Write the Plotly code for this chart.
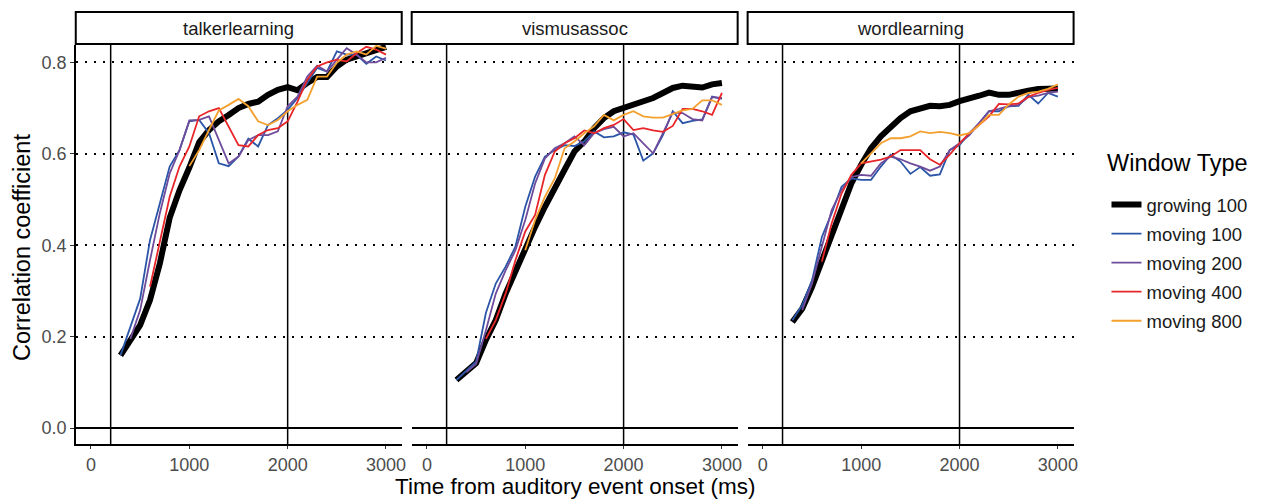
import plotly.graph_objects as go

# ---------------- data ----------------
panels = ["talkerlearning", "vismusassoc", "wordlearning"]
series_names = ["growing 100", "moving 100", "moving 200", "moving 400", "moving 800"]
series_colors = ["#000000", "#2B56A8", "#6F4C9B", "#E8262A", "#F4A02E"]
series_widths = [6, 1.8, 1.8, 1.8, 1.8]

times = [300, 400, 500, 600, 700, 800, 900, 1000, 1100, 1200, 1300, 1400, 1500, 1600,
         1700, 1800, 1900, 2000, 2100, 2200, 2300, 2400, 2500, 2600, 2700, 2800, 2900, 3000]

N = None
# talkerlearning
tl_growing100 = [.159, .192, .225, .280, .360, .460, .520, .570, .625, .652, .671, .685, .700, .709,
                 .714, .729, .740, .746, .739, .755, .768, .768, .791, .806, .813, .822, .828, .834]
tl_moving100 = [.159, .221, .283, .411, .492, .572, .608, .671, .674, .645, .579, .573, .594, .633,
                .616, .663, .678, .696, .722, .755, .788, .780, .824, .817, .817, .797, .813, .804]
tl_moving200 = [N, .195, .258, .367, .470, .557, .608, .673, .674, .682, .630, .579, .594, .630,
                .641, .641, .649, .704, .725, .769, .793, .780, .806, .831, .817, .800, .800, .810]
tl_moving400 = [N, N, N, .309, .411, .506, .572, .616, .682, .693, .700, .660, .619, .616,
                .641, .652, .656, .671, .714, .762, .791, .800, .806, .802, .820, .834, .828, .817]
tl_moving800 = [N, N, N, N, N, N, N, .573, .608, .652, .695, .707, .720, .704,
                .671, .663, .674, .693, .707, .718, .769, .769, .799, .817, .824, .817, .836, .830]

# vismusassoc
vm_growing100 = [.105, .123, .142, .193, .236, .294, .345, .393, .440, .484, .528, .565, .605, .627,
                 .656, .678, .693, .700, .708, .715, .722, .733, .744, .749, .746, .745, .752, .755]
vm_moving100 = [.105, .125, .145, .252, .316, .353, .397, .484, .550, .594, .608, .619, .617, .627,
                .649, .636, .638, .647, .642, .585, .601, .641, .693, .667, .672, .675, .725, .720]
vm_moving200 = [N, .122, .140, .214, .294, .345, .389, .455, .535, .590, .612, .623, .638, .619,
                .645, .654, .659, .638, .645, .623, .601, .645, .690, .689, .676, .673, .724, .722]
vm_moving400 = [N, N, N, .195, .236, .294, .367, .430, .466, .554, .605, .623, .634, .651,
                .645, .656, .663, .676, .652, .656, .651, .648, .661, .698, .698, .693, .685, .733]
vm_moving800 = [N, N, N, N, N, N, N, .389, .455, .506, .546, .612, .627, .645,
                .660, .685, .673, .685, .693, .682, .679, .679, .687, .695, .698, .717, .717, .707]

# wordlearning
wl_growing100 = [.232, .261, .309, .367, .426, .484, .535, .576, .612, .638, .660, .678, .693, .700,
                 .705, .704, .707, .715, .720, .727, .734, .729, .729, .735, .738, .742, .743, .743]
wl_moving100 = [.236, .269, .323, .418, .470, .528, .546, .543, .543, .572, .598, .583, .556, .571,
                .552, .555, .608, .619, .645, .667, .693, .693, .704, .705, .729, .710, .733, .725]
wl_moving200 = [N, .258, .316, .397, .477, .521, .549, .554, .552, .579, .594, .588, .579, .572,
                .563, .572, .608, .623, .641, .667, .693, .698, .704, .707, .724, .727, .733, .736]
wl_moving400 = [N, N, N, .364, .448, .513, .554, .579, .583, .587, .594, .608, .608, .608,
                .588, .576, .598, .623, .645, .663, .682, .709, .708, .710, .725, .733, .740, .744]
wl_moving800 = [N, N, N, N, N, N, N, .579, .601, .623, .634, .634, .638, .649,
                .645, .648, .645, .640, .645, .663, .685, .685, .708, .725, .733, .736, .742, .752]

panel_data = [
    [tl_growing100, tl_moving100, tl_moving200, tl_moving400, tl_moving800],
    [vm_growing100, vm_moving100, vm_moving200, vm_moving400, vm_moving800],
    [wl_growing100, wl_moving100, wl_moving200, wl_moving400, wl_moving800],
]

vlines = [200, 2000]
x_ticks = [0, 1000, 2000, 3000]
y_ticks = [0.0, 0.2, 0.4, 0.6, 0.8]

# ---------------- layout geometry ----------------
W, H = 1265, 499
FONT = "Liberation Sans, Arial, sans-serif"
TICK_FS = 18
panel_px = [(76, 403), (413, 740), (750, 1077)]
plot_top, plot_bottom = 45, 444
strip_top, strip_bottom = 12, 44
ydom = [1 - plot_bottom / H, 1 - plot_top / H]

fig = go.Figure()
shapes = []
annotations = []
layout_axes = {}

for i, (pname, series) in enumerate(zip(panels, panel_data)):
    k = "" if i == 0 else str(i + 1)
    xa, ya = "x" + k, "y" + k
    for j, (name, vals) in enumerate(zip(series_names, series)):
        fig.add_trace(go.Scatter(
            x=times, y=vals, mode="lines", name=name,
            line=dict(color=series_colors[j], width=series_widths[j]),
            xaxis=xa, yaxis=ya, showlegend=(i == 0),
            legendgroup=name, connectgaps=False,
        ))
    x0, x1 = panel_px[i]
    layout_axes["xaxis" + k] = dict(
        domain=[x0 / W, x1 / W], range=[-155, 3160], anchor=ya,
        tickvals=x_ticks, ticktext=[str(t) for t in x_ticks],
        ticks="outside", ticklen=3, tickwidth=1.2, tickcolor="#333333",
        showline=True, linecolor="black", linewidth=2,
        showgrid=False, zeroline=False,
        tickfont=dict(size=TICK_FS, color="#4D4D4D", family=FONT),
    )
    layout_axes["yaxis" + k] = dict(
        domain=ydom, range=[-0.035, 0.838], anchor=xa,
        tickvals=y_ticks, ticktext=["%.1f" % v for v in y_ticks],
        showticklabels=(i == 0),
        ticks="outside" if i == 0 else "", ticklen=4, tickwidth=1.2, tickcolor="#333333",
        showline=(i == 0), linecolor="black", linewidth=1.5,
        showgrid=True, gridcolor="black", gridwidth=1.5, griddash="2px,7px",
        zeroline=True, zerolinecolor="black", zerolinewidth=1.5,
        tickfont=dict(size=TICK_FS, color="#4D4D4D", family=FONT),
    )
    for v in vlines:
        shapes.append(dict(type="line", xref=xa, yref=ya + " domain", x0=v, x1=v, y0=0, y1=1,
                           line=dict(color="black", width=1.5), layer="below"))
    shapes.append(dict(type="rect", xref="paper", yref="paper",
                       x0=x0 / W, x1=x1 / W, y0=1 - strip_bottom / H, y1=1 - strip_top / H,
                       line=dict(color="black", width=2), fillcolor="white"))
    annotations.append(dict(text=pname, xref="paper", yref="paper",
                            x=(x0 + x1) / 2 / W, y=1 - (strip_top + strip_bottom) / 2 / H,
                            showarrow=False, xanchor="center", yanchor="middle",
                            font=dict(size=18.5, color="#1A1A1A", family=FONT)))

annotations.append(dict(text="Time from auditory event onset (ms)", xref="paper", yref="paper",
                        x=577 / W, y=0, showarrow=False,
                        xanchor="center", yanchor="bottom", yshift=-2,
                        font=dict(size=22.5, color="black", family=FONT)))
annotations.append(dict(text="Correlation coefficient", xref="paper", yref="paper",
                        x=22 / W, y=1 - 247 / H, textangle=-90, showarrow=False,
                        xanchor="center", yanchor="middle",
                        font=dict(size=23.5, color="black", family=FONT)))
# legend title
annotations.append(dict(text="Window Type", xref="paper", yref="paper",
                        x=1109 / W, y=1 - 163 / H, showarrow=False,
                        xanchor="left", yanchor="middle",
                        font=dict(size=23.5, color="black", family=FONT)))

fig.update_layout(
    width=W, height=H,
    margin=dict(l=0, r=0, t=0, b=0),
    paper_bgcolor="white", plot_bgcolor="white",
    font=dict(family=FONT),
    shapes=shapes, annotations=annotations,
    legend=dict(
        x=1110 / W, y=1 - 186 / H, xanchor="left", yanchor="top",
        font=dict(size=18.5, color="#1A1A1A", family=FONT),
        traceorder="grouped", tracegroupgap=2, itemwidth=30,
        bgcolor="rgba(0,0,0,0)",
    ),
    **layout_axes,
)

fig.write_html("out.html")
